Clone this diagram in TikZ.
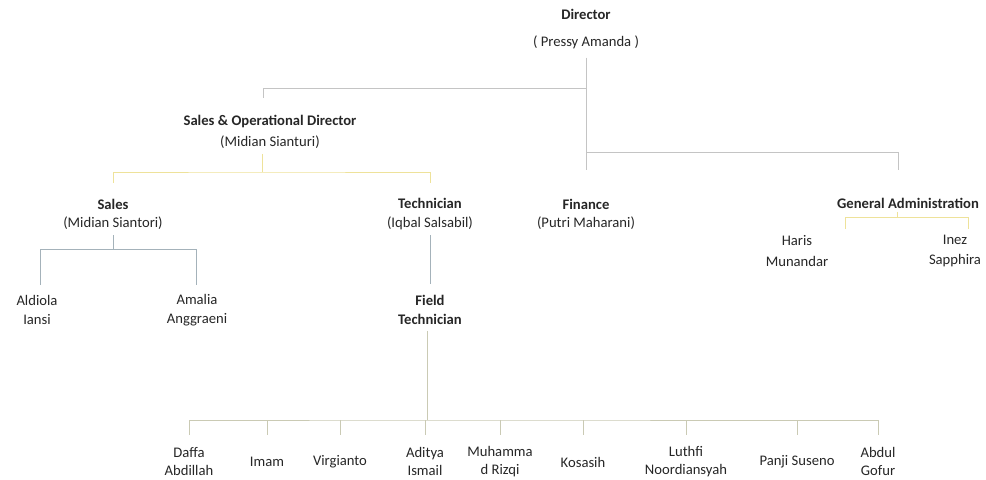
\documentclass[tikz,border=0pt]{standalone}
\usepackage{fontspec}
\setmainfont{Carlito}
\usetikzlibrary{positioning}
\definecolor{linegrey}{HTML}{C4C4C4}
\definecolor{lineyellow}{HTML}{EEE29A}
\definecolor{lineblue}{HTML}{A4B2BA}
\definecolor{lineolive}{HTML}{CACAB4}
\definecolor{textgrey}{HTML}{262626}

\begin{document}
\begin{tikzpicture}[x=0.03cm, y=-0.03cm,
    every node/.style={text=textgrey, inner sep=1pt, align=center, font=\fontsize{12.5}{15.5}\selectfont},
    link/.style={draw=linegrey, line width=0.8pt},
    linky/.style={draw=lineyellow, line width=0.8pt},
    linkb/.style={draw=lineblue, line width=0.8pt},
    linko/.style={draw=lineolive, line width=0.8pt}]
    \useasboundingbox (0,0) rectangle (986,480);
    % Management
    \node (director) at (586,29) {\textbf{Director}\\[8pt]( Pressy Amanda )};
    \node (salesop) at (270,132) {\textbf{Sales \& Operational Director}\\[3pt](Midian Sianturi)};
    \node (sales) at (113,214) {\textbf{Sales}\\(Midian Siantori)};
    \node (tech) at (430,214) {\textbf{Technician}\\(Iqbal Salsabil)};
    \node (finance) at (586,214) {\textbf{Finance}\\(Putri Maharani)};
    \node (genadmin) at (908,203) {\textbf{General Administration}};
    % Staff
    \node (haris) at (797,251) {Haris\\[2pt]Munandar};
    \node (inez) at (955,251) {Inez\\[2pt]Sapphira};
    \node (aldiola) at (37,310) {Aldiola\\[1pt]Iansi};
    \node (amalia) at (197,310) {Amalia\\[1pt]Anggraeni};
    \node (field) at (430,310) {\textbf{Field}\\[1pt]\textbf{Technician}};
    % Field technicians
    \node (daffa) at (189,461.5) {Daffa\\Abdillah};
    \node (imam) at (267,462) {Imam};
    \node (virgianto) at (340,462) {Virgianto};
    \node (aditya) at (425,461.5) {Aditya\\Ismail};
    \node (muhammad) at (500,461.5) {Muhamma\\d Rizqi};
    \node (kosasih) at (583,462) {Kosasih};
    \node (luthfi) at (686,461.5) {Luthfi\\Noordiansyah};
    \node (panji) at (797,462) {Panji Suseno};
    \node (abdul) at (878,461.5) {Abdul\\Gofur};

    % Junctions
    \coordinate (dirsplit) at (586,88);
    \coordinate (finsplit) at (586,152);
    \coordinate (sobus) at (262,172);
    \coordinate (gaL) at (845,217);
    \coordinate (gaR) at (968,217);
    \coordinate (salesbusL) at (40,249);
    \coordinate (salesbusR) at (196,249);
    \coordinate (fieldbus) at (427,420);
    \coordinate (ticked) at (0,435);

    % Connectors
    \draw[link] (director.south) ++(0,-6pt) -- (finance |- 0,170);
    \draw[link] (dirsplit) -| (263,98);
    \draw[link] (finsplit) -| (898,170);
    \draw[linky] (sobus |- salesop.south) ++(0,-3pt) -- (sobus);
    \draw[linky] (sales |- 0,183) |- (sobus) -| (tech |- 0,183);
    \draw[linky] (genadmin.south -| 897,0) ++(0,-2pt) -- (897,217);
    \draw[linky] (gaL |- 0,229) -- (gaL) -- (gaR) -- (gaR |- 0,229);
    \draw[linkb] (sales.south) ++(0,-4pt) -- (sales |- salesbusL);
    \draw[linkb] (salesbusL |- 0,285) -- (salesbusL) -- (salesbusR) -- (salesbusR |- 0,285);
    \draw[linkb] (tech.south) ++(0,-4pt) -- ([yshift=8pt]field.north);
    \draw[linko] (fieldbus |- field.south) ++(0,-4pt) -- (fieldbus);
    \draw[linko] (daffa |- ticked) |- (fieldbus) -| (abdul |- ticked);
    \foreach \n in {imam,virgianto,aditya,muhammad,kosasih,luthfi,panji}
        \draw[linko] (\n |- fieldbus) -- (\n |- ticked);
\end{tikzpicture}
\end{document}
